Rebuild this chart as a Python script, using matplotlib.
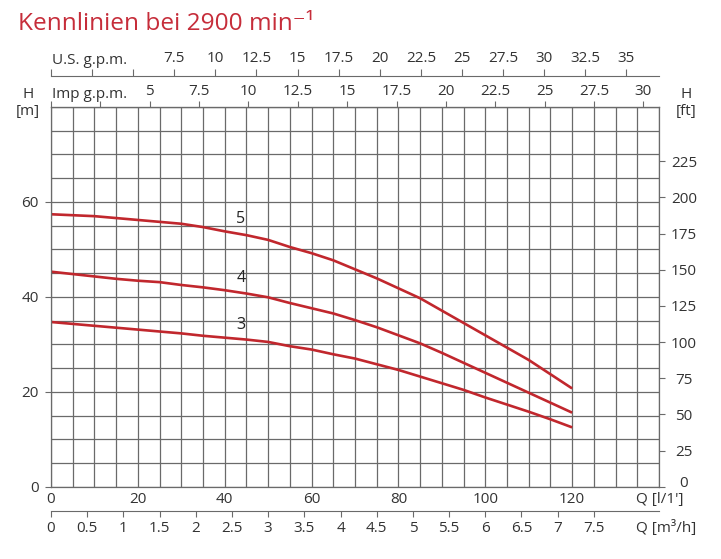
import numpy as np
import matplotlib
matplotlib.use('Agg')
import matplotlib.pyplot as plt

plt.rcParams['font.family'] = ['Open Sans', 'DejaVu Sans']

# Förderstrom Q in l/min und Förderhöhe H in m
q = [0, 5, 10, 15, 20, 25, 30, 35, 40, 45, 50, 55, 60,
     65, 70, 75, 80, 85, 90, 95, 100, 105, 110, 115, 120]
h5 = [57.4, 57.2, 57.0, 56.6, 56.2, 55.8, 55.4, 54.7, 53.8, 53.0, 52.0, 50.5, 49.2,
      47.7, 45.8, 43.9, 41.8, 39.7, 37.1, 34.5, 31.9, 29.3, 26.7, 23.7, 20.7]
h4 = [45.3, 44.8, 44.3, 43.8, 43.4, 43.1, 42.5, 42.0, 41.4, 40.7, 39.9, 38.7, 37.6,
      36.5, 35.1, 33.6, 31.9, 30.2, 28.2, 26.1, 24.0, 21.9, 19.8, 17.7, 15.6]
h3 = [34.7, 34.3, 33.9, 33.5, 33.1, 32.7, 32.3, 31.8, 31.4, 31.0, 30.5, 29.6, 28.9,
      27.9, 27.0, 25.8, 24.6, 23.2, 21.8, 20.4, 18.8, 17.3, 15.8, 14.2, 12.5]
curve_names = ['5', '4', '3']
label_pos = [(43.7, 56.4), (43.7, 43.9), (43.7, 34.0)]

q_ticks = [0, 20, 40, 60, 80, 100, 120]
h_ticks = [0, 20, 40, 60]
ft_ticks = [0, 25, 50, 75, 100, 125, 150, 175, 200, 225]
m3h_ticks = [0, 0.5, 1, 1.5, 2, 2.5, 3, 3.5, 4, 4.5, 5, 5.5, 6, 6.5, 7, 7.5]
imp_ticks = [0, 2.5, 5, 7.5, 10, 12.5, 15, 17.5, 20, 22.5, 25, 27.5, 30]
us_ticks = [0, 2.5, 5, 7.5, 10, 12.5, 15, 17.5, 20, 22.5, 25, 27.5, 30, 32.5, 35]

GRID = '#6a6a6a'
TXT = '#333333'
RED = '#c1272d'

fig = plt.figure(figsize=(7.21, 5.59), dpi=100)
ax = fig.add_axes([51/721, 1 - 486.7/559, 608/721, 379.7/559])
ax.set_xlim(0, 140)
ax.set_ylim(0, 80)

ax.set_xticks(q_ticks)
ax.set_xticks(np.arange(0, 141, 5), minor=True)
ax.set_yticks(h_ticks)
ax.set_yticks(np.arange(0, 81, 5), minor=True)
ax.grid(True, which='both', color=GRID, linewidth=0.9)
ax.set_axisbelow(True)
ax.tick_params(axis='x', which='both', length=0, pad=4, labelsize=11, labelcolor=TXT)
ax.tick_params(axis='y', which='major', length=4, color=GRID, pad=5, labelsize=11, labelcolor=TXT)
ax.tick_params(axis='y', which='minor', length=0)
for s in ax.spines.values():
    s.set_color(GRID)
    s.set_linewidth(0.9)

for h, name, (lx, ly) in zip([h5, h4, h3], curve_names, label_pos):
    ax.plot(q, h, color=RED, linewidth=1.9, solid_capstyle='butt')
    ax.text(lx, ly, name, fontsize=11.5, color='#222222', ha='center', va='center')

# rechte Achse in ft
ax2 = ax.twinx()
ax2.set_ylim(0, 80 * 3.28084)
ax2.set_yticks(ft_ticks)
ax2.tick_params(axis='y', length=4, color=GRID, pad=14, labelsize=11, labelcolor=TXT)
ft_labels = ax2.get_yticklabels()
for lab in ft_labels:
    lab.set_horizontalalignment('center')
ft_labels[0].set_verticalalignment('baseline')
for s in ax2.spines.values():
    s.set_visible(False)

# Imp g.p.m. oben
imp = ax.secondary_xaxis('top', functions=(lambda x: x / 4.54609, lambda g: g * 4.54609))
imp.set_xticks(imp_ticks)
imp.set_xticklabels(['', ''] + [f'{t:g}' for t in imp_ticks[2:]])
imp.tick_params(length=4, color=GRID, pad=2, labelsize=11, labelcolor=TXT)
imp.spines['top'].set_color(GRID)

# U.S. g.p.m.
us = ax.secondary_xaxis(1.082, functions=(lambda x: x / 3.78541, lambda g: g * 3.78541))
us.set_xticks(us_ticks)
us.set_xticklabels(['', '', ''] + [f'{t:g}' for t in us_ticks[3:]])
us.tick_params(length=5, color=GRID, pad=2, labelsize=11, labelcolor=TXT)
for s in us.spines.values():
    s.set_color(GRID)

# m3/h unten
m3 = ax.secondary_xaxis(-0.064, functions=(lambda x: x * 0.06, lambda m: m / 0.06))
m3.set_xticks(m3h_ticks)
m3.set_xticklabels([f'{t:g}' for t in m3h_ticks])
m3.tick_params(length=4, color=GRID, pad=3, labelsize=11, labelcolor=TXT)
for s in m3.spines.values():
    s.set_color(GRID)

def ftxt(x, y, s, **kw):
    fig.text(x / 721, 1 - y / 559, s, fontsize=11, color=TXT, **kw)

ftxt(52, 60, 'U.S. g.p.m.', ha='left', va='center')
ftxt(52, 95, 'Imp g.p.m.', ha='left', va='center')
ftxt(28, 94, 'H', ha='center', va='center')
ftxt(28, 112, '[m]', ha='center', va='center')
ftxt(686, 94, 'H', ha='center', va='center')
ftxt(686, 112, '[ft]', ha='center', va='center')
ftxt(636, 500, "Q [l/1']", ha='left', va='center')
ftxt(636, 528, 'Q [m³/h]', ha='left', va='center')

fig.text(18 / 721, 1 - 29.5 / 559, 'Kennlinien bei 2900 min⁻¹', fontsize=17.6,
         color='#c62d3a', ha='left', va='baseline')

fig.savefig('out.png', dpi=100)
